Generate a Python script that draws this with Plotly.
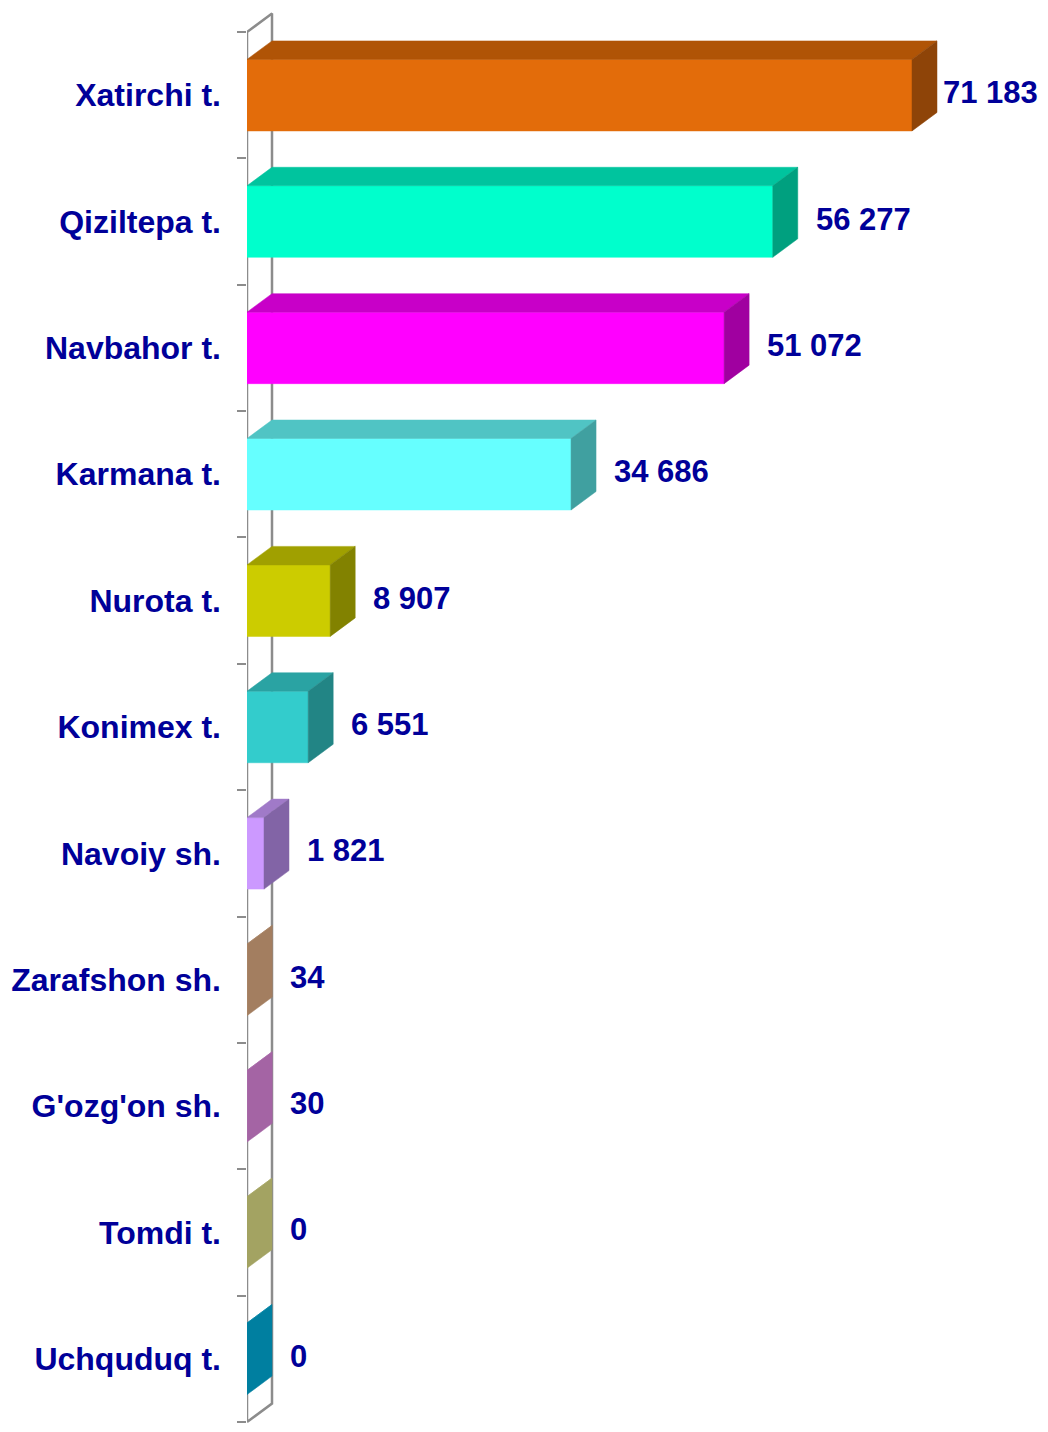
import plotly.graph_objects as go

categories = ["Xatirchi t.", "Qiziltepa t.", "Navbahor t.", "Karmana t.", "Nurota t.",
              "Konimex t.", "Navoiy sh.", "Zarafshon sh.", "G'ozg'on sh.", "Tomdi t.", "Uchquduq t."]
values = [71183, 56277, 51072, 34686, 8907, 6551, 1821, 34, 30, 0, 0]
front_colors = ["#E36C0A", "#00FFCC", "#FF00FF", "#66FFFF", "#CCCC00", "#33CCCC",
                "#CC99FF", "#CC9C75", "#CC7DCC", "#CCCC7A", "#009FC7"]
top_colors = ["#B05406", "#00C49E", "#C800C8", "#50C4C4", "#A0A000", "#2AA3A3",
              "#A07AC8", "#B08A6A", "#B070B0", "#B0B06A", "#0090B0"]
side_colors = ["#8E4408", "#00A07F", "#A000A0", "#40A0A0", "#828200", "#228585",
               "#8264A6", "#A37E60", "#A464A4", "#A3A362", "#007FA0"]

# page has an 8px body margin; keep the figure inside the viewport to avoid scrollbars
PAGE_OFF = 8
W, H = 1048 - 2 * PAGE_OFF, 1432 - 2 * PAGE_OFF
left_px = 247 - PAGE_OFF
top_px = 32 - PAGE_OFF
n = len(categories)
band_px = (H - 2 - top_px) / n
px_per_unit = 665 / 71183.0
depth_px_x, depth_px_y = 25, 18.5
bar_frac = 0.566

xmax = (W - left_px) / px_per_unit
dx = depth_px_x / px_per_unit
dy = depth_px_y / band_px
y_top = -0.5 - top_px / band_px
y_bot = -0.5 + (H - top_px) / band_px

fig = go.Figure()
wall = "#8C8C8C"
fig.add_trace(go.Scatter(x=[0, 0, dx, dx, 0], y=[n - 0.5, -0.5, -0.5 - dy, n - 0.5 - dy, n - 0.5],
                         mode="lines", line=dict(color=wall, width=2.5), hoverinfo="skip",
                         showlegend=False))

for i, v in enumerate(values):
    y0 = i - bar_frac / 2
    y1 = i + bar_frac / 2
    fig.add_trace(go.Scatter(x=[0, v, v, 0, 0], y=[y0, y0, y1, y1, y0], fill="toself",
                             mode="lines", line=dict(color=front_colors[i], width=0.5),
                             fillcolor=front_colors[i], hoverinfo="skip", showlegend=False))
    fig.add_trace(go.Scatter(x=[0, v, v + dx, dx, 0], y=[y0, y0, y0 - dy, y0 - dy, y0], fill="toself",
                             mode="lines", line=dict(color=top_colors[i], width=0.5),
                             fillcolor=top_colors[i], hoverinfo="skip", showlegend=False))
    fig.add_trace(go.Scatter(x=[v, v + dx, v + dx, v, v], y=[y0, y0 - dy, y1 - dy, y1, y0], fill="toself",
                             mode="lines", line=dict(color=side_colors[i], width=0.5),
                             fillcolor=side_colors[i], hoverinfo="skip", showlegend=False))

label_color = "#000099"
font_family = "Liberation Sans, Arial, sans-serif"
vmax = max(values)
for i, v in enumerate(values):
    txt = f"{v:,}".replace(",", " ")
    fig.add_annotation(x=v + dx, y=i - 0.02, text=txt, xref="x", yref="y", showarrow=False,
                       xanchor="left", yanchor="middle", xshift=4 if v == vmax else 16,
                       font=dict(family=font_family, size=31, color=label_color, weight="bold"))

fig.update_layout(
    width=W, height=H, margin=dict(l=left_px, r=0, t=0, b=0, autoexpand=False),
    plot_bgcolor="white", paper_bgcolor="white", showlegend=False,
    xaxis=dict(range=[0, xmax], visible=False, fixedrange=True),
    yaxis=dict(range=[y_bot, y_top], tickmode="array", tickvals=list(range(n)), ticktext=categories,
               ticks="", showgrid=False, zeroline=False, showline=False, automargin=False,
               ticklabelstandoff=25,
               tickfont=dict(family=font_family, size=32, color=label_color, weight="bold"),
               minor=dict(tickmode="array", tickvals=[k - 0.5 for k in range(n + 1)], ticks="outside",
                          ticklen=9, tickcolor=wall, tickwidth=2, showgrid=False),
               fixedrange=True),
)

fig.write_html("out.html")
